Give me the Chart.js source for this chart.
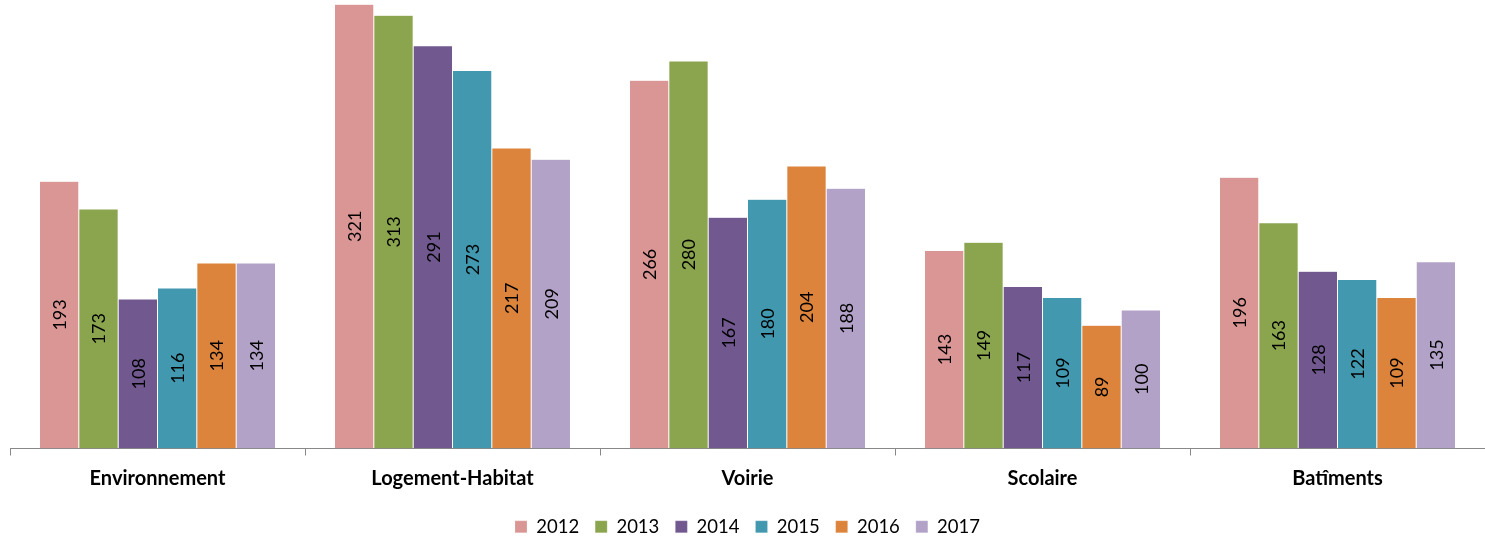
<!DOCTYPE html>
<html lang="fr">
<head>
  <meta charset="UTF-8" />
  <title>Dépenses par secteur 2012-2017</title>
  <script src="https://cdn.jsdelivr.net/npm/chart.js"></script>
  <style>
    html, body { margin: 0; padding: 0; background: #fff; }
    #wrap { width: 1485px; height: 536px; position: relative; }
  </style>
</head>
<body>
  <div id="wrap"><canvas id="chartCanvas"></canvas></div>

  <script>
    const categories = ["Environnement", "Logement-Habitat", "Voirie", "Scolaire", "Batîments"];
    const years = ["2012", "2013", "2014", "2015", "2016", "2017"];
    const v2012 = [193, 321, 266, 143, 196];
    const v2013 = [173, 313, 280, 149, 163];
    const v2014 = [108, 291, 167, 117, 128];
    const v2015 = [116, 273, 180, 109, 122];
    const v2016 = [134, 217, 204, 89, 109];
    const v2017 = [134, 209, 188, 100, 135];
    const colors = ["#D99694", "#8AA54E", "#71588F", "#4298AF", "#DD843C", "#B3A2C7"];

    const series = [v2012, v2013, v2014, v2015, v2016, v2017];

    // étiquettes verticales au centre de chaque barre
    const barLabels = {
      id: 'barLabels',
      afterDatasetsDraw(chart) {
        const ctx = chart.ctx;
        ctx.save();
        ctx.font = '18px Lato, "Open Sans", sans-serif';
        ctx.fillStyle = '#000';
        ctx.textAlign = 'center';
        ctx.textBaseline = 'middle';
        chart.data.datasets.forEach((ds, i) => {
          chart.getDatasetMeta(i).data.forEach((bar, j) => {
            const y = (bar.y + bar.base) / 2;
            ctx.save();
            ctx.translate(bar.x, y);
            ctx.rotate(-Math.PI / 2);
            ctx.fillText(String(ds.data[j]), 0, 1);
            ctx.restore();
          });
        });
        ctx.restore();
      }
    };

    const ctx = document.getElementById("chartCanvas").getContext("2d");
    new Chart(ctx, {
      type: 'bar',
      data: {
        labels: categories,
        datasets: years.map((y, i) => ({
          label: y,
          data: series[i],
          backgroundColor: colors[i],
          borderColor: 'rgba(255,255,255,0.35)',
          borderWidth: 0.5,
          categoryPercentage: 0.8,
          barPercentage: 1.0
        }))
      },
      options: {
        responsive: true,
        maintainAspectRatio: false,
        animation: false,
        layout: { padding: { left: 10, right: 0, top: 0, bottom: -10 } },
        plugins: {
          tooltip: { enabled: false },
          legend: {
            position: 'bottom',
            labels: {
              boxWidth: 12,
              boxHeight: 12,
              padding: 16,
              color: '#000',
              font: { size: 18.5, family: 'Lato, "Open Sans", sans-serif' }
            }
          }
        },
        scales: {
          x: {
            offset: true,
            grid: {
              offset: true,
              drawOnChartArea: false,
              drawTicks: true,
              tickLength: 7,
              color: '#888'
            },
            border: { color: '#888', width: 1 },
            ticks: {
              color: '#000',
              padding: 11,
              font: { size: 20, weight: 'bold', family: 'Lato, "Open Sans", sans-serif' }
            }
          },
          y: {
            display: false,
            min: 0,
            max: 324
          }
        }
      },
      plugins: [barLabels]
    });
  </script>
</body>
</html>
